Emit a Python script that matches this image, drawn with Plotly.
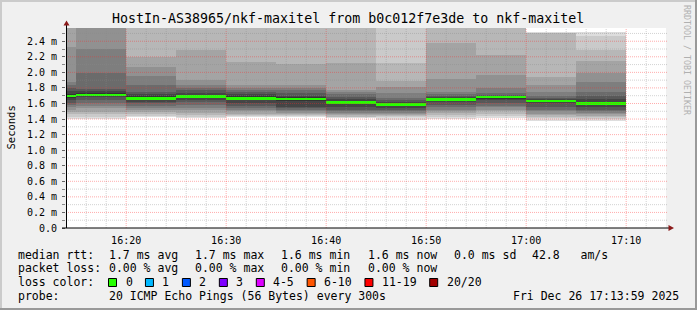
import plotly.graph_objects as go
import pandas as pd

# ---------------- data ----------------
DAY = "2025-12-26"
title_text = "HostIn-AS38965/nkf-maxitel from b0c012f7e3de to nkf-maxitel"
slot_end = ["16:15", "16:20", "16:25", "16:30", "16:35", "16:40",
            "16:45", "16:50", "16:55", "17:00", "17:05", "17:10"]
median_ms = [1.694, 1.711, 1.665, 1.690, 1.665, 1.656,
             1.609, 1.583, 1.652, 1.682, 1.634, 1.600]

# sorted rtt (ms) of the 20 pings in each 300 s step
pings_1615 = [1.40, 1.43, 1.46, 1.49, 1.52, 1.55, 1.58, 1.61, 1.64, 1.67,
              1.72, 1.76, 1.80, 1.84, 1.88, 2.33, 2.70, 2.90, 3.10, 3.30]
pings_1620 = [1.40, 1.43, 1.46, 1.495, 1.54, 1.57, 1.60, 1.645, 1.68, 1.70,
              1.74, 1.76, 1.78, 1.995, 2.295, 2.65, 2.80, 3.00, 3.20, 3.40]
pings_1625 = [1.43, 1.445, 1.46, 1.49, 1.52, 1.545, 1.57, 1.60, 1.62, 1.64,
              1.69, 1.72, 1.75, 1.84, 1.95, 2.07, 2.20, 2.60, 2.80, 3.00]
pings_1630 = [1.41, 1.43, 1.45, 1.48, 1.51, 1.54, 1.58, 1.62, 1.645, 1.67,
              1.71, 1.74, 1.77, 1.80, 1.84, 1.90, 2.29, 2.60, 2.80, 3.00]
pings_1635 = [1.43, 1.44, 1.45, 1.47, 1.50, 1.52, 1.54, 1.57, 1.60, 1.64,
              1.69, 1.72, 1.75, 1.77, 1.80, 1.84, 2.136, 2.60, 2.80, 3.00]
pings_1640 = [1.43, 1.44, 1.45, 1.46, 1.48, 1.50, 1.52, 1.54, 1.56, 1.63,
              1.68, 1.70, 1.73, 1.77, 1.80, 1.84, 2.106, 2.60, 2.80, 3.00]
pings_1645 = [1.41, 1.42, 1.43, 1.45, 1.46, 1.48, 1.50, 1.52, 1.55, 1.59,
              1.63, 1.655, 1.68, 1.72, 1.75, 1.77, 2.115, 2.60, 2.80, 3.00]
pings_1650 = [1.39, 1.42, 1.44, 1.45, 1.46, 1.48, 1.50, 1.52, 1.54, 1.57,
              1.60, 1.62, 1.64, 1.667, 1.73, 1.81, 1.89, 2.115, 2.70, 3.00]
pings_1655 = [1.40, 1.42, 1.45, 1.48, 1.50, 1.52, 1.55, 1.58, 1.62, 1.64,
              1.665, 1.68, 1.70, 1.72, 1.75, 1.92, 2.38, 2.60, 2.80, 3.00]
pings_1700 = [1.41, 1.44, 1.47, 1.50, 1.52, 1.55, 1.57, 1.60, 1.645, 1.67,
              1.69, 1.70, 1.71, 1.73, 1.795, 1.96, 2.22, 2.60, 2.80, 3.00]
pings_1705 = [1.37, 1.41, 1.43, 1.45, 1.47, 1.50, 1.52, 1.56, 1.60, 1.62,
              1.645, 1.655, 1.67, 1.70, 1.75, 1.84, 1.94, 2.50, 2.51, 2.52]
pings_1710 = [1.37, 1.40, 1.42, 1.44, 1.46, 1.48, 1.50, 1.52, 1.55, 1.58,
              1.62, 1.66, 1.70, 1.75, 1.88, 1.99, 2.15, 2.29, 2.47, 2.52]

y_tick_vals = [0.0, 0.2, 0.4, 0.6, 0.8, 1.0, 1.2, 1.4, 1.6, 1.8, 2.0, 2.2, 2.4]
y_tick_text = ["0.0", "0.2 m", "0.4 m", "0.6 m", "0.8 m", "1.0 m", "1.2 m",
               "1.4 m", "1.6 m", "1.8 m", "2.0 m", "2.2 m", "2.4 m"]
x_tick_text = ["16:20", "16:30", "16:40", "16:50", "17:00", "17:10"]

rtt_stats = ["1.7 ms avg", "1.7 ms max", "1.6 ms min", "1.6 ms now",
             "0.0 ms sd", "42.8   am/s"]
loss_stats = ["0.00 % avg", "0.00 % max", "0.00 % min", "0.00 % now"]
loss_labels = ["0", "1", "2", "3", "4-5", "6-10", "11-19", "20/20"]
loss_colors = ["#26ff00", "#00b8ff", "#0059ff", "#7e00ff",
               "#dd00ff", "#ff5500", "#ff0000", "#a10000"]
probe_text = "20 ICMP Echo Pings (56 Bytes) every 300s"
stamp_text = "Fri Dec 26 17:13:59 2025"
range_start = "2025-12-26 16:13:59"
range_end = "2025-12-26 17:13:59"

# ---------------- build ----------------
all_pings = [pings_1615, pings_1620, pings_1625, pings_1630, pings_1635,
             pings_1640, pings_1645, pings_1650, pings_1655, pings_1700,
             pings_1705, pings_1710]
STEP_MS = 300000
ends = pd.to_datetime([f"{DAY} {t}" for t in slot_end])
centers = ends - pd.Timedelta(seconds=150)

FONT = "DejaVu Sans Mono"
W, H = 697, 310
L, R, T, B = 66, 31, 28, 82
PW, PH = W - L - R, H - T - B
YMAX = 2.57

fig = go.Figure()

half = 10
for k in range(half):
    g = int(190 / half * (half - (k + 1))) + 50
    col = "#%02x%02x%02x" % (g, g, g)
    fig.add_trace(go.Bar(
        x=centers, base=[p[k] for p in all_pings],
        y=[p[19 - k] - p[k] for p in all_pings],
        width=STEP_MS, marker=dict(color=col, line=dict(width=0)),
        showlegend=False, hoverinfo="skip"))

med_h = 0.034
fig.add_trace(go.Bar(
    x=centers, base=[m - med_h / 2 for m in median_ms], y=[med_h] * len(median_ms),
    width=STEP_MS, marker=dict(color=loss_colors[0], line=dict(width=0)),
    showlegend=False, hoverinfo="skip"))

def pxx(px):
    return (px - L) / PW

def pxy(py):
    return (T + PH - py) / PH

MAJ = "rgba(255,40,40,0.38)"
MIN = "rgba(140,140,140,0.38)"
shapes = []
# grid (drawn above the smoke, as rrdtool does)
for t in pd.date_range(f"{DAY} 16:14", f"{DAY} 17:12", freq="2min"):
    major = t.minute % 10 == 0
    shapes.append(dict(type="line", xref="x", yref="paper", x0=t, x1=t, y0=0, y1=1,
                       layer="above",
                       line=dict(color=MAJ if major else MIN, width=1, dash="1px,1px")))
for i in range(1, 26):
    v = i / 10
    major = i % 2 == 0
    shapes.append(dict(type="line", xref="paper", yref="y", x0=0, x1=1 + 2 / PW, y0=v, y1=v,
                       layer="above",
                       line=dict(color=MAJ if major else MIN, width=1, dash="1px,1px")))

# axis lines + arrows
shapes.append(dict(type="line", xref="paper", yref="paper", xsizemode="pixel", xanchor=0,
                   x0=0.5, x1=0.5, y0=0, y1=1 + 4 / PH, layer="above",
                   line=dict(color="black", width=1)))
shapes.append(dict(type="line", xref="paper", yref="paper", ysizemode="pixel", yanchor=0,
                   x0=-4 / PW, x1=1 + 5 / PW, y0=0, y1=0, layer="above",
                   line=dict(color="black", width=1)))
shapes.append(dict(type="path", xref="paper", yref="paper", xsizemode="pixel", ysizemode="pixel",
                   xanchor=0, yanchor=1, path="M -2.5,2.5 L 3.5,2.5 L 0.5,7.5 Z",
                   fillcolor="#8b1a1a", line=dict(width=0), layer="above"))
shapes.append(dict(type="path", xref="paper", yref="paper", xsizemode="pixel", ysizemode="pixel",
                   xanchor=1, yanchor=0, path="M 2.5,-3 L 2.5,3 L 8,0 Z",
                   fillcolor="#8b1a1a", line=dict(width=0), layer="above"))

# frame
shapes.append(dict(type="rect", xref="paper", yref="paper", x0=pxx(0), x1=pxx(W), y0=pxy(0), y1=pxy(2),
                   fillcolor="#cbcbcb", line=dict(width=0), layer="below"))
shapes.append(dict(type="rect", xref="paper", yref="paper", x0=pxx(0), x1=pxx(2), y0=pxy(0), y1=pxy(H),
                   fillcolor="#cbcbcb", line=dict(width=0), layer="below"))
shapes.append(dict(type="rect", xref="paper", yref="paper", x0=pxx(0), x1=pxx(W), y0=pxy(H - 2), y1=pxy(H),
                   fillcolor="#999999", line=dict(width=0), layer="below"))
shapes.append(dict(type="rect", xref="paper", yref="paper", x0=pxx(W - 2), x1=pxx(W), y0=pxy(0), y1=pxy(H),
                   fillcolor="#999999", line=dict(width=0), layer="below"))

annotations = []

def txt(s, px, py, size=11.5, anchor="left", color="black", angle=0):
    annotations.append(dict(text=s, xref="paper", yref="paper", x=pxx(px), y=pxy(py),
                            xanchor=anchor, yanchor="middle", showarrow=False,
                            textangle=angle,
                            font=dict(family=FONT, size=size, color=color)))

txt(title_text, 348, 18.5, size=13.3, anchor="center")
txt("Seconds", 10.5, 128, size=10.5, anchor="center", angle=-90)
txt("RRDTOOL / TOBI OETIKER", 687, 60, size=8.3, anchor="center", color="#b0b0b0", angle=90)

LX = 16
COL_X = [107.3, 193.3, 279.3, 366, 451.7, 530]
txt("median rtt:", LX, 254.5)
for s, x in zip(rtt_stats, COL_X):
    txt(s, x, 254.5)
txt("packet loss:", LX, 268.3)
for s, x in zip(loss_stats, COL_X):
    txt(s, x, 268.3)
txt("loss color:", LX, 282.2)
bx = 108.5
CW = 6.95
for lab, c in zip(loss_labels, loss_colors):
    shapes.append(dict(type="rect", xref="paper", yref="paper", xsizemode="pixel", ysizemode="pixel",
                       xanchor=pxx(bx), yanchor=pxy(282.5), x0=0, x1=8, y0=-4, y1=4,
                       fillcolor=c, line=dict(color="black", width=1), layer="above"))
    txt(lab, bx + 15, 282.2)
    bx = bx + 15 + len(lab) * CW + 15
txt("probe:", LX, 296)
txt(probe_text, COL_X[0], 296)
txt(stamp_text, 680.5, 296, anchor="right")

fig.update_layout(
    width=W, height=H, margin=dict(l=L, r=R, t=T, b=B, pad=0),
    paper_bgcolor="#f0f0f0", plot_bgcolor="#ffffff",
    barmode="overlay", bargap=0, showlegend=False,
    shapes=shapes, annotations=annotations,
    font=dict(family=FONT, size=10, color="black"),
)
fig.update_xaxes(
    type="date", range=[range_start, range_end], showgrid=False, zeroline=False,
    showline=False,
    tickvals=list(pd.date_range(f"{DAY} 16:20", f"{DAY} 17:10", freq="10min")),
    ticktext=x_tick_text, ticks="", ticklabelstandoff=5,
    tickfont=dict(family=FONT, size=10, color="black"),
)
fig.update_yaxes(
    range=[0, YMAX], showgrid=False, zeroline=False, showline=False,
    tickvals=y_tick_vals, ticktext=y_tick_text, ticks="outside", ticklen=3,
    tickcolor="#666666", ticklabelstandoff=3,
    tickfont=dict(family=FONT, size=10, color="black"),
    minor=dict(dtick=0.1, ticks="outside", ticklen=3, tickcolor="#888888"),
)

fig.write_html("out.html")
